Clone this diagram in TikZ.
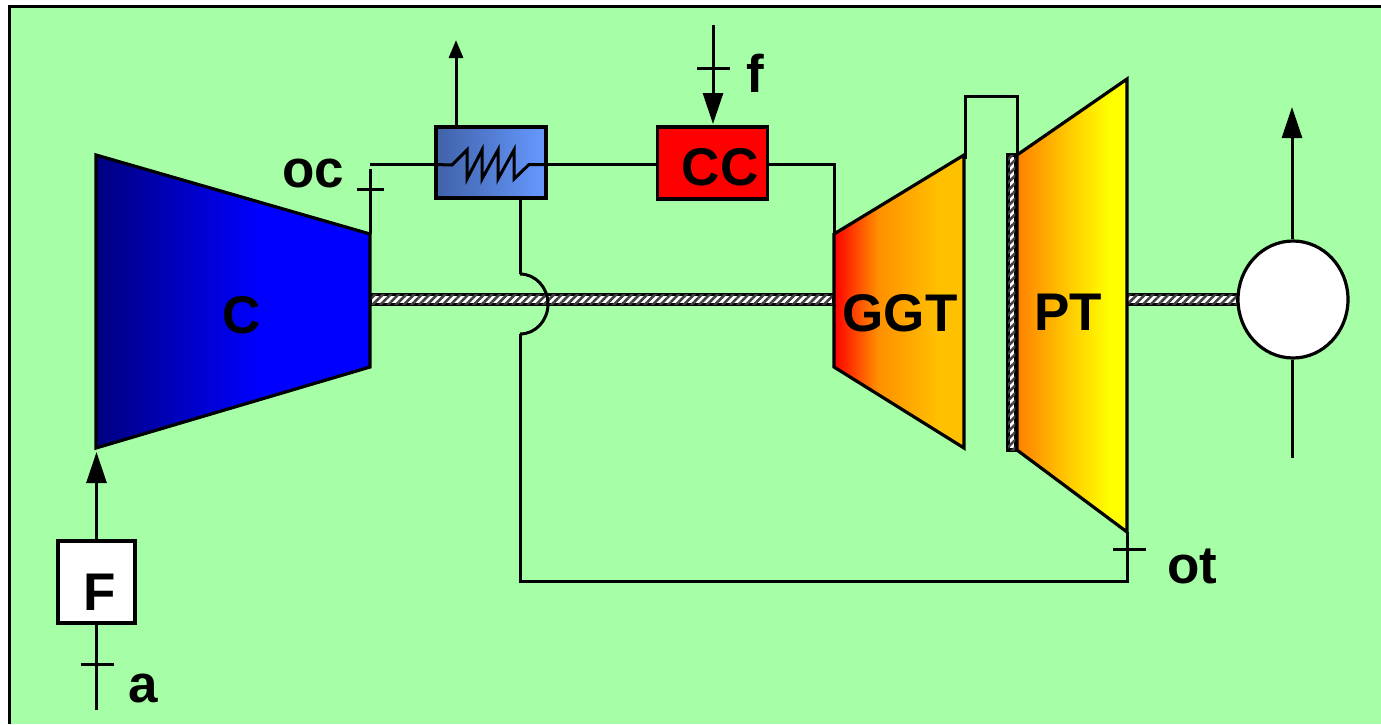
\documentclass[tikz,border=0pt]{standalone}
\usepackage{fontspec}
\setmainfont{Liberation Sans}
\usepackage{tikz}
\usetikzlibrary{arrows.meta, positioning, patterns.meta, shapes.geometric}

\definecolor{panelgreen}{HTML}{A6FFA6}
\definecolor{reculeft}{HTML}{4062A8}
\definecolor{recuright}{HTML}{6699FF}
\definecolor{navyblue}{HTML}{000080}
\definecolor{fullblue}{HTML}{0000FF}
\definecolor{fullred}{HTML}{FF0000}
\definecolor{midorange}{HTML}{FF9000}
\definecolor{amber}{HTML}{FFC000}
\definecolor{deeporange}{HTML}{FF8000}
\definecolor{fullyellow}{HTML}{FFFF00}

\pgfdeclarehorizontalshading{compfade}{100bp}{
  color(0bp)=(navyblue); color(25bp)=(navyblue);
  color(55bp)=(fullblue); color(100bp)=(fullblue)}
\pgfdeclarehorizontalshading{ggtfade}{100bp}{
  color(0bp)=(fullred); color(25bp)=(fullred);
  color(42bp)=(midorange); color(65bp)=(amber);
  color(100bp)=(amber)}
\pgfdeclarehorizontalshading{ptfade}{100bp}{
  color(0bp)=(deeporange); color(25bp)=(deeporange);
  color(45bp)=(amber); color(67bp)=(fullyellow);
  color(100bp)=(fullyellow)}

\tikzset{
  pipe/.style={draw=black,line width=3pt,line join=miter},
  flowarrow/.style={pipe,-{Triangle[width=20pt,length=31pt]},shorten >=0pt},
  smallarrow/.style={pipe,-{Triangle[width=14pt,length=18pt]}},
  tick/.style={draw=black,line width=3pt},
  label/.style={font=\bfseries\fontsize{53}{56}\selectfont,inner sep=0pt},
  stage/.style={draw=black,line width=3.2pt,line join=miter},
  shaft/.style={draw=black,line width=3.2pt,fill=white,
    postaction={pattern={Lines[angle=45,distance=5.5pt,line width=2.6pt]},pattern color=black!75}},
  unitbox/.style={draw=black,line width=3.2pt,inner sep=0pt,anchor=center},
}

\begin{document}
\begin{tikzpicture}[x=1pt,y=-1pt]
      \useasboundingbox (0,0) rectangle (1381,724);
      \fill[white] (0,0) rectangle (1381,724);
      \fill[panelgreen] (9,6) rectangle (1381,724);
      \draw[line width=3pt] (9.5,724) -- (9.5,6) -- (1381,6);

      % shafts go under the stages
      \node[shaft,minimum width=464pt,minimum height=10pt,inner sep=0pt] (shaft_gg) at (602,299.5) {};
      \node[shaft,minimum width=111pt,minimum height=10pt,inner sep=0pt] (shaft_pt) at (1182,299.5) {};
      \node[shaft,minimum width=8pt,minimum height=295pt,inner sep=0pt] (shaft_link) at (1012,302.5) {};

      % stage corners
      \coordinate (c_in) at (96,155);
      \coordinate (c_out) at (370,234);
      \coordinate (ggt_in) at (834,234);
      \coordinate (ggt_out) at (964,155);
      \coordinate (pt_in) at (1017,155);
      \coordinate (pt_top) at (1127,79);
      \coordinate (pt_out) at (1127,532);

      \draw[stage,shading=compfade]
        (c_in) -- (c_out) -- (370,367) -- (96,448) -- cycle;
      \draw[stage,shading=ggtfade]
        (ggt_in) -- (ggt_out) -- (964,448) -- (834,367) -- cycle;
      \draw[stage,shading=ptfade]
        (pt_in) -- (pt_top) -- (pt_out) -- (1017,450) -- cycle;

      \node[label] (c_label) at (242,315) {C};
      \node[label] (ggt_label) at (900,313) {GGT};
      \node[label] (pt_label) at (1068,312) {PT};

      % boxes
      \node[unitbox,fill=white,minimum width=77pt,minimum height=82pt] (filter) at (96.5,582) {};
      \node[label] (filter_label) at (100,592) {F};
      \node[unitbox,left color=reculeft,right color=recuright,minimum width=110pt,minimum height=71pt] (recu) at (491,162.5) {};
      \node[unitbox,fill=red,minimum width=110pt,minimum height=72pt] (cc) at (712.5,163) {};
      \node[label] (cc_label) at (720,167) {CC};
      \node[ellipse,draw=black,line width=3.2pt,fill=white,minimum width=110pt,minimum height=117pt,inner sep=0pt] (gen) at (1293,299.5) {};

      % inlet
      \coordinate (a_end) at (96.5,710);
      \coordinate (c_tip) at (96.5,452);
      \draw[pipe] (a_end) -- (filter);
      \draw[flowarrow] (filter) -- (c_tip);
      \coordinate (a_tick) at (96.5,664);
      \draw[tick] ([xshift=-16pt]a_tick) -- ([xshift=17pt]a_tick);
      \node[label] (a_label) at (143,688) {a};

      % compressor outlet to recuperator
      \coordinate (oc_end) at (370,169);
      \coordinate (oc_start) at (370,164.5);
      \draw[pipe] (c_out) -- (oc_end);
      \draw[pipe] (oc_start) -- (recu.west |- oc_start);
      \coordinate (oc_tick) at (370,189);
      \draw[tick] ([xshift=-13pt]oc_tick) -- ([xshift=14pt]oc_tick);
      \node[label] (oc_label) at (313,173) {oc};

      % coil
      \draw[pipe] (recu.west |- oc_start) -- (452,165) -- (467,150) -- (467,179)
        -- (482,150) -- (482,179) -- (498,150) -- (498,179) -- (514,150) -- (514,179)
        -- (529,164.5) -- (recu.east |- 0,164.5);

      % recuperator, combustor, turbines
      \coordinate (recu_top) at (456,127);
      \coordinate (recu_tip) at (456,40);
      \draw[smallarrow] (recu_top) -- (recu_tip);
      \draw[pipe] (recu.east |- 0,164.5) -- (cc.west |- 0,164.5);
      \draw[pipe] (cc.east |- 0,164.5) -| (ggt_in);
      \coordinate (f_end) at (713,25);
      \coordinate (cc_tip) at (713,124);
      \draw[flowarrow] (f_end) -- (cc_tip);
      \coordinate (f_tick) at (713,68);
      \draw[tick] ([xshift=-16pt]f_tick) -- ([xshift=17pt]f_tick);
      \node[label] (f_label) at (755,73) {f};

      % turbine crossover
      \coordinate (bridge_l) at (965,159);
      \coordinate (bridge_tl) at (965,96);
      \coordinate (bridge_tr) at (1017,96);
      \draw[pipe] (bridge_l) -- (bridge_tl) -- (bridge_tr) -- (pt_in);

      % exhaust back to the recuperator
      \coordinate (ex_low) at (520,581);
      \coordinate (hop_top) at (520,274);
      \coordinate (hop_bot) at (520,334);
      \draw[pipe] (pt_out) -- (pt_out |- ex_low) -- (ex_low) -- (hop_bot);
      \draw[pipe] (hop_top) -- (hop_top |- recu.south);
      \draw[pipe] (hop_top) arc[start angle=90,end angle=-90,x radius=28pt,y radius=30pt];
      \coordinate (ot_tick) at (1129,549);
      \draw[tick] ([xshift=-16pt]ot_tick) -- ([xshift=17pt]ot_tick);
      \node[label] (ot_label) at (1192,566) {ot};

      % generator
      \coordinate (gen_tip) at (1292,107);
      \coordinate (gen_low) at (1292,458);
      \draw[flowarrow] (gen.north -| gen_tip) -- (gen_tip);
      \draw[pipe] (gen.south -| gen_low) -- (gen_low);
    \end{tikzpicture}
\end{document}
